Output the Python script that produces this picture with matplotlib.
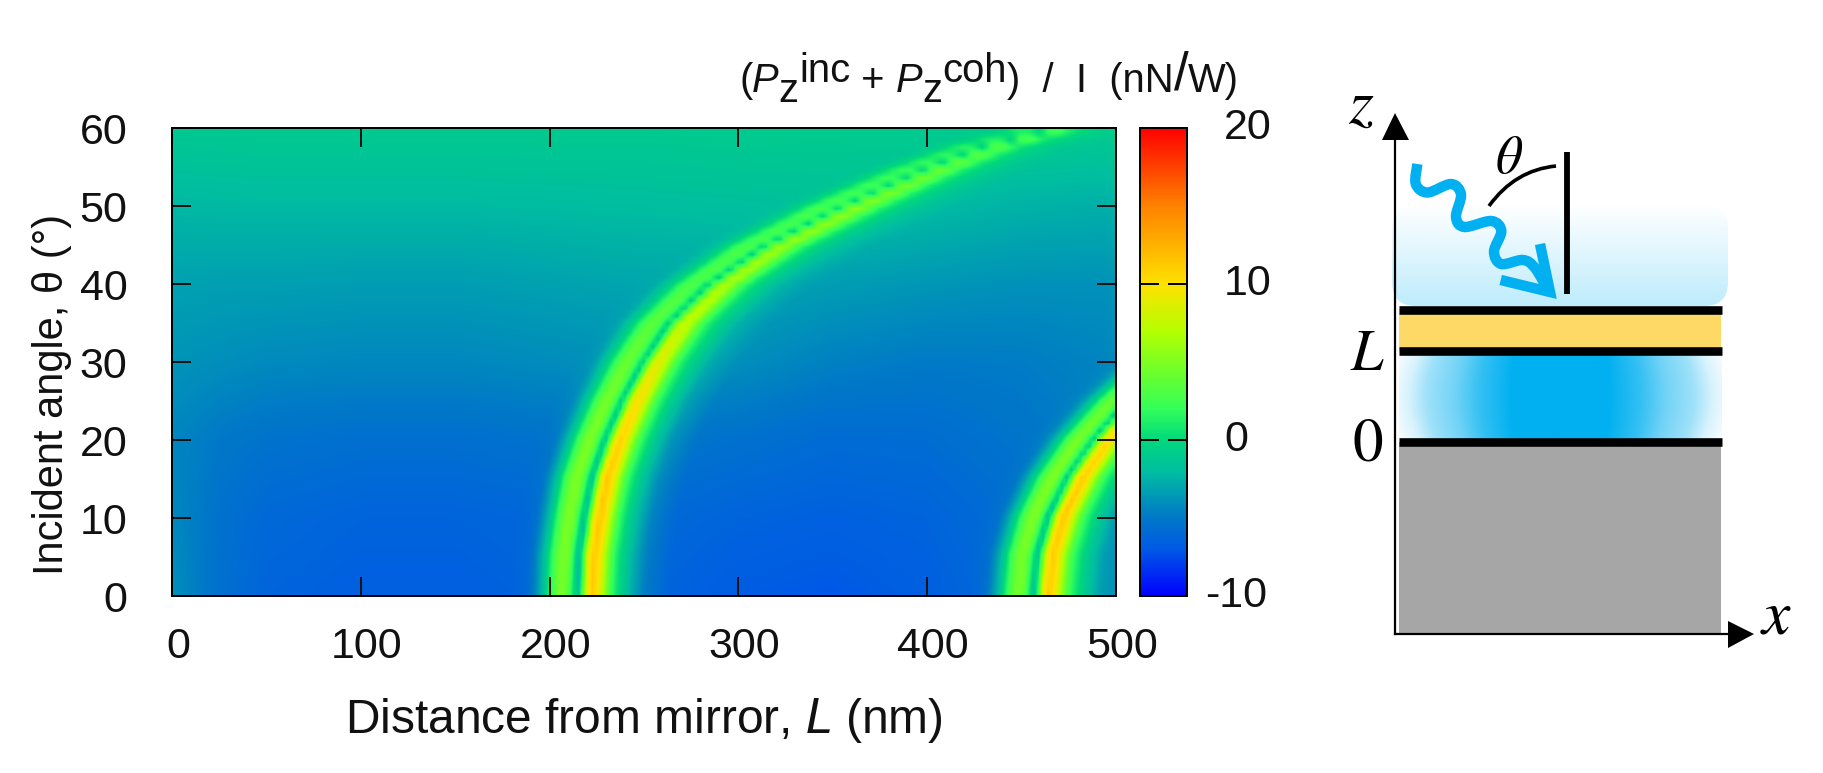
#!/usr/bin/env python3
"""Optical force map vs. distance and incident angle, with the cavity sketch next to it."""
import matplotlib

matplotlib.use("Agg")
import matplotlib.pyplot as plt
import numpy as np
from matplotlib.colors import LinearSegmentedColormap
from matplotlib.patches import FancyBboxPatch, PathPatch, Polygon, Rectangle
from matplotlib.path import Path
from matplotlib.transforms import ScaledTranslation

plt.rcParams["font.family"] = ["Liberation Sans", "DejaVu Sans"]
plt.rcParams["mathtext.fontset"] = "stix"

W, H = 1823, 773

# colour bar (value, colour)
cbar_values = [-10, -7, -5, -2, 0, 2, 4, 7, 10, 15, 20]
cbar_colors = ["#0000ff", "#005ae6", "#0078c8", "#00bea0", "#00d87c", "#32ff5a",
               "#64ff32", "#b4ff00", "#ffe100", "#ff8200", "#ff0000"]

# background level away from the rings, read on a coarse grid
bg_theta = [0, 10, 20, 30, 40, 50, 60]
bg_dist = [0, 25, 50, 100, 150, 200, 250, 300, 350, 400, 450, 500]
bg_level = [
    [-4.0, -5.5, -6.3, -6.6, -6.6, -6.3, -6.2, -6.8, -7.0, -6.6, -5.8, -4.6],
    [-4.3, -5.4, -6.0, -6.3, -6.3, -6.1, -5.9, -6.3, -6.5, -6.3, -5.6, -4.8],
    [-4.4, -5.0, -5.3, -5.5, -5.5, -5.3, -5.0, -5.4, -5.8, -5.7, -5.2, -4.6],
    [-3.8, -4.0, -4.2, -4.3, -4.3, -4.1, -3.8, -4.0, -4.6, -4.9, -4.8, -4.4],
    [-3.2, -3.3, -3.3, -3.4, -3.4, -3.2, -3.0, -3.0, -3.4, -3.7, -3.9, -3.9],
    [-2.3, -2.2, -2.2, -2.2, -2.2, -2.1, -2.0, -1.9, -1.8, -2.1, -2.5, -2.7],
    [-1.2, -1.2, -1.1, -1.1, -1.1, -1.1, -1.1, -1.0, -1.0, -1.0, -1.0, -1.1],
]

# first ring: peak position, height above background, width factor
ring1_theta = [0, 5, 10, 15, 20, 25, 30, 35, 40, 45, 50, 55, 58, 60]
ring1_peak = [222, 223, 226, 230, 237, 246, 257, 271, 292, 322, 362, 407, 438, 468]
ring1_amp = [1.0, 1.0, 1.0, 0.97, 0.92, 0.84, 0.74, 0.65, 0.57, 0.50, 0.43, 0.34, 0.26, 0.2]
ring1_width = [1.0, 1.0, 1.0, 1.0, 1.0, 1.0, 1.02, 1.05, 1.08, 1.12, 1.15, 1.12, 1.05, 1.0]

# second ring
ring2_theta = [0, 5, 10, 15, 20, 25, 30]
ring2_peak = [465, 467, 473, 483, 497, 515, 537]
ring2_amp = [0.95, 0.95, 0.95, 0.93, 0.88, 0.8, 0.7]

# cross section through a ring at normal incidence (nm from peak, height above background)
prof_offset = [-42, -34, -30, -25, -22, -17, -13, -10, -7.5, -5, -3, 0, 4, 7, 11, 15, 20, 28, 42]
prof_height = [0.0, 0.4, 2.0, 5.0, 8.0, 11.0, 10.5, 7.0, 4.0, 8.5, 14.5, 17.5, 16.0, 12.0, 8.0, 6.0,
               4.0, 1.5, 0.0]

# how the blue field between film and mirror fades from the middle to the edge
glow_pos = [0.0, 0.3, 0.5, 0.66, 0.83, 0.95, 1.1]
glow_fade = [0.0, 0.0, 0.2, 0.45, 0.62, 0.85, 1.0]

x_ticks = [0, 100, 200, 300, 400, 500]
y_ticks = [0, 10, 20, 30, 40, 50, 60]
cbar_ticks = [-10, 0, 10, 20]


def px_axes(left, top, right, bottom):
    return [left / W, 1 - bottom / H, (right - left) / W, (bottom - top) / H]


def build_map():
    theta = np.arange(0, 61)
    dist = np.arange(0, 502.5, 2.5)
    bg_by_col = np.array([np.interp(theta, bg_theta, col) for col in np.array(bg_level).T]).T
    field = np.array([np.interp(dist, bg_dist, row) for row in bg_by_col])
    for i, t in enumerate(theta):
        peak = np.interp(t, ring1_theta, ring1_peak)
        amp = np.interp(t, ring1_theta, ring1_amp)
        wid = np.interp(t, ring1_theta, ring1_width)
        field[i] += amp * np.interp((dist - peak) / wid, prof_offset, prof_height, left=0, right=0)
        peak = np.interp(t, ring2_theta, ring2_peak)
        amp = np.interp(t, ring2_theta, ring2_amp)
        field[i] += amp * np.interp(dist - peak, prof_offset, prof_height, left=0, right=0)
    return dist, theta, field


def draw_header(fig, x0, baseline):
    """Lay the colour bar title out run by run so that z and inc sit side by side."""
    size = 28.8
    runs = [("(", 0, "normal", size), ("P", 0, "italic", size), ("z", -10, "normal", size),
            ("inc", 10, "normal", size), (" + ", 0, "normal", size), ("P", 0, "italic", size),
            ("z", -10, "normal", size), ("coh", 10, "normal", size),
            (")  /  I  (nN", 0, "normal", size), ("/", 2, "normal", 38), ("W)", 0, "normal", size)]
    renderer = fig.canvas.get_renderer()

    def advance(s, style, fs):
        probe = fig.text(0, 0, s, fontsize=fs, style=style)
        w = probe.get_window_extent(renderer).width
        probe.remove()
        return w

    x = x0
    for s, dy, style, fs in runs:
        fig.text(x / W, 1 - (baseline - dy) / H, s, fontsize=fs, style=style,
                 ha="left", va="baseline", color="#111111")
        # bracket with n so that blanks at the ends are counted
        x += advance("n" + s + "n", style, fs) - advance("nn", style, fs)


def smooth_path(pts):
    """Cubic path through the points (Catmull-Rom)."""
    p = np.array([pts[0]] + pts + [pts[-1]], dtype=float)
    verts = [p[1]]
    codes = [Path.MOVETO]
    for i in range(1, len(p) - 2):
        verts += [p[i] + (p[i + 1] - p[i - 1]) / 6, p[i + 1] - (p[i + 2] - p[i]) / 6, p[i + 1]]
        codes += [Path.CURVE4] * 3
    return Path(verts, codes)


def draw_sketch(fig):
    ax = fig.add_axes([0, 0, 1, 1], zorder=5)
    ax.set_xlim(0, W)
    ax.set_ylim(H, 0)
    ax.axis("off")
    ax.patch.set_alpha(0)

    # haze above the film
    ramp = np.linspace(0, 1, 64)[:, None, None]
    haze = ramp * np.array([[[190, 236, 252]]]) / 255 + (1 - ramp) * np.ones((64, 1, 3))
    im = ax.imshow(haze, extent=(1392, 1728, 306, 205), aspect="auto", zorder=1, interpolation="bilinear")
    im.set_clip_path(FancyBboxPatch((1392 + 24, 205 + 24), 336 - 48, 101 - 48,
                                    boxstyle="round,pad=24,rounding_size=24", transform=ax.transData))

    # field between film and mirror, strongest in the middle
    xx, yy = np.meshgrid(np.linspace(-1, 1, 160), np.linspace(-1, 1, 40))
    fade = np.interp(np.abs(xx) * (1 + 0.08 * yy ** 2), glow_pos, glow_fade)
    glow = np.dstack([fade, 176 / 255 + (1 - 176 / 255) * fade, 240 / 255 + (1 - 240 / 255) * fade])
    ax.imshow(glow, extent=(1399, 1722, 442, 351), aspect="auto", zorder=1, interpolation="bilinear")

    ax.add_patch(Rectangle((1399, 309), 322, 42, fc="#ffd966", ec="none", zorder=2))
    ax.add_patch(Rectangle((1399, 442), 322, 192, fc="#a6a6a6", ec="none", zorder=2))
    for y in (309.5, 351, 442):
        ax.plot([1399, 1722], [y, y], color="black", lw=6.2, solid_capstyle="butt", zorder=3)

    # axes arrows
    ax.plot([1395, 1395], [634, 130], color="black", lw=1.6, zorder=4)
    ax.plot([1395, 1732], [634, 634], color="black", lw=1.6, zorder=4)
    ax.add_patch(Polygon([[1395, 113], [1382, 140], [1409, 140]], fc="black", ec="none", zorder=4))
    ax.add_patch(Polygon([[1754, 634], [1728, 621], [1728, 648]], fc="black", ec="none", zorder=4))

    # wavy incoming beam
    pts = [(1417.4, 164), (1415.8, 184), (1427.5, 192.5), (1451, 184), (1461, 194.5), (1456, 217),
           (1464.4, 227), (1491.3, 221), (1501.3, 231), (1494, 251.6), (1501.3, 264), (1523, 260),
           (1535, 268), (1548, 290)]
    ax.add_patch(PathPatch(smooth_path(pts), fc="none", ec="#00b0f0", lw=7.5, capstyle="butt",
                           joinstyle="round", zorder=4))
    ax.plot([1540, 1550, 1500.7], [244, 292, 280], color="#00b0f0", lw=7.5,
            solid_joinstyle="miter", solid_capstyle="butt", zorder=4)

    # angle marker
    ax.plot([1567, 1567], [152, 294], color="black", lw=4.2, solid_capstyle="butt", zorder=4)
    ax.add_patch(PathPatch(Path([(1489, 206), (1515, 170), (1556, 166)],
                                [Path.MOVETO, Path.CURVE3, Path.CURVE3]),
                           fc="none", ec="black", lw=2.6, zorder=4))

    ax.text(1361, 106, r"$z$", fontsize=46, ha="center", va="center", zorder=6)
    ax.text(1509, 159, r"$\theta$", fontsize=38, ha="center", va="center", zorder=6)
    ax.text(1368, 355, r"$L$", fontsize=42, ha="center", va="center", zorder=6)
    ax.text(1368, 445, r"$0$", fontsize=44, ha="center", va="center", zorder=6)
    ax.text(1776, 617, r"$x$", fontsize=46, ha="center", va="center", zorder=6)


def main():
    fig = plt.figure(figsize=(W / 100, H / 100), dpi=100)
    dist, theta, field = build_map()

    cmap = LinearSegmentedColormap.from_list(
        "force", [((v + 10) / 30, c) for v, c in zip(cbar_values, cbar_colors)], N=512)

    ax = fig.add_axes(px_axes(172, 128, 1116, 596))
    im = ax.imshow(field, origin="lower", extent=(0, 500, 0, 60), aspect="auto", cmap=cmap,
                   vmin=-10, vmax=20, interpolation="bilinear")
    ax.set_xticks(x_ticks)
    ax.set_yticks(y_ticks)
    ax.tick_params(which="both", direction="in", top=True, right=True, length=13.5, width=1.4,
                   labelsize=31, colors="#111111")
    ax.tick_params(axis="x", pad=22)
    ax.tick_params(axis="y", pad=32)
    shift = ScaledTranslation(6 / 100, 0, fig.dpi_scale_trans)
    for label in ax.get_xticklabels():
        label.set_transform(label.get_transform() + shift)
    for sp in ax.spines.values():
        sp.set_linewidth(1.4)
    ax.set_xlabel("Distance from mirror, $\\mathit{L}$ (nm)", fontsize=34.5, labelpad=21, color="#111111",
                  math_fontfamily="custom")
    ax.set_ylabel("Incident angle, \u03b8 (\u00b0)", fontsize=30, color="#111111", va="center")
    ax.yaxis.set_label_coords(-0.127, 0.43)

    cax = fig.add_axes(px_axes(1140, 128, 1187, 596))
    cb = fig.colorbar(im, cax=cax)
    cb.set_ticks(cbar_ticks)
    cax.tick_params(direction="in", left=True, right=True, length=13.5, width=1.4, labelright=False)
    cb.outline.set_linewidth(1.4)
    trans = cax.get_yaxis_transform()
    for v in cbar_ticks:
        if v == -10:
            cax.text((1267 - 1140) / 47, v, "%d" % v, fontsize=31, ha="right", va="center",
                     transform=trans, color="#111111")
        else:
            cax.text((1224 - 1140) / 47, v, "%d" % v, fontsize=31, ha="left", va="center",
                     transform=trans, color="#111111")

    draw_header(fig, 739, 92)
    draw_sketch(fig)

    fig.savefig("out.png", dpi=100)
    plt.close(fig)


if __name__ == "__main__":
    main()
